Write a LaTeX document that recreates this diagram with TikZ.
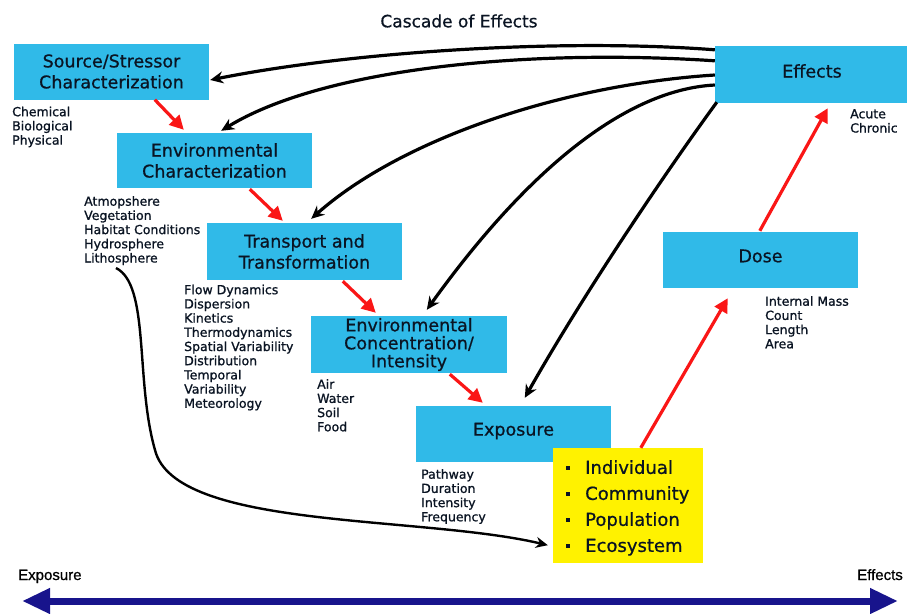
\documentclass[tikz,border=0pt]{standalone}
\usepackage{fontspec}
\setmainfont[FakeBold=0.7]{DejaVu Sans}
\newfontfamily\listfont[FakeBold=1.0]{DejaVu Sans}
\newfontfamily\lblfont[FakeBold=0.8]{Liberation Sans}
\usetikzlibrary{arrows.meta,calc}
\definecolor{boxblue}{RGB}{48,186,232}
\definecolor{arrred}{RGB}{250,22,22}
\definecolor{navyarr}{RGB}{24,20,140}
\definecolor{txtdark}{RGB}{10,20,35}
\begin{document}
\begin{tikzpicture}[x=1pt,y=-1pt,
  bluebox/.style={fill=boxblue,minimum width=195pt,minimum height=56pt,inner sep=0pt,align=center,
    font=\fontsize{17.5}{21}\selectfont,text=txtdark},
  boxlabel/.style={font=\fontsize{17.5}{21}\selectfont,text=txtdark},
  listtext/.style={anchor=north west,align=left,inner sep=0pt,font=\listfont\fontsize{12.5}{14.2}\selectfont,text=txtdark},
  redarr/.style={draw=arrred,line width=3.2pt,-{Triangle[length=14pt,width=14pt]}},
  blkarr/.style={draw=black,line width=3.2pt,-{Stealth[length=13pt,width=12pt]}},
]
\useasboundingbox (0,0) rectangle (907,613);
\fill[white] (0,0) rectangle (907,613);

\node[font=\fontsize{17}{20}\selectfont,text=txtdark] (title) at (459,21) {Cascade of Effects};

% boxes
\node[bluebox] (src) at (111.5,71.5) {Source/Stressor\\Characterization};
\node[bluebox,minimum width=192pt,minimum height=57pt] (eff) at (811,74.5) {};
\node[boxlabel] (efft) at (812,71) {Effects};
\node[bluebox,minimum height=55pt] (envc) at (214.5,160.5) {Environmental\\Characterization};
\node[bluebox,minimum height=57pt] (trans) at (304.5,251.5) {Transport and\\Transformation};
\node[bluebox,minimum width=196pt,minimum height=57pt,font=\fontsize{17.5}{18}\selectfont] (conc) at (409,344.5) {Environmental\\Concentration/\\Intensity};
\node[bluebox] (expo) at (513.5,434) {};
\node[boxlabel] (expot) at (513.5,431) {Exposure};
\node[bluebox] (dose) at (760.5,260) {};
\node[boxlabel] (doset) at (760.5,256) {Dose};
\node[fill=yellow,minimum width=150pt,minimum height=115pt,inner sep=0pt] (yel) at (628,505.5) {};
\node[anchor=north west,align=left,inner sep=0pt,font=\fontsize{18}{26}\selectfont,text=txtdark] (yelt) at (566,460)
 {\raisebox{4pt}{\rule{4pt}{4pt}}\hspace{15pt}Individual\\
  \raisebox{4pt}{\rule{4pt}{4pt}}\hspace{15pt}Community\\
  \raisebox{4pt}{\rule{4pt}{4pt}}\hspace{15pt}Population\\
  \raisebox{4pt}{\rule{4pt}{4pt}}\hspace{15pt}Ecosystem};

% lists
\node[listtext] (l1) at (12,106.5) {Chemical\\Biological\\Physical};
\node[listtext] (l2) at (84,196) {Atmopshere\\Vegetation\\Habitat Conditions\\Hydrosphere\\Lithosphere};
\node[listtext] (l3) at (184,284.5) {Flow Dynamics\\Dispersion\\Kinetics\\Thermodynamics\\Spatial Variability\\Distribution\\Temporal\\Variability\\Meteorology};
\node[listtext] (l4) at (317,379) {Air\\Water\\Soil\\Food};
\node[listtext] (l5) at (421,469) {Pathway\\Duration\\Intensity\\Frequency};
\node[listtext] (l6) at (765,296) {Internal Mass\\Count\\Length\\Area};
\node[listtext] (l7) at (850,109) {Acute\\Chronic};

% red arrows
\draw[redarr] ($(src.south west)+(141,0)$) -- ($(envc.north west)+(67,-3)$);
\draw[redarr] ($(envc.south west)+(133,1)$) -- ($(trans.north west)+(76,-2)$);
\draw[redarr] ($(trans.south west)+(136,1)$) -- ($(conc.north west)+(65,-3)$);
\draw[redarr] ($(conc.south west)+(139,1)$) -- ($(expo.north west)+(67,-3)$);
\draw[redarr] ($(yel.north west)+(88,0)$) -- ($(dose.south west)+(65,10)$);
\draw[redarr] ($(dose.north west)+(97,-1)$) -- ($(eff.south west)+(113,5)$);

% black feedback arrows
\draw[blkarr] ($(eff.north west)+(0,4)$) .. controls (560,38) and (350,52) .. ($(src.east)+(1,8.5)$);
\draw[blkarr] ($(eff.north west)+(0,15)$) .. controls (520,48) and (320,70) .. ($(envc.north east)+(-91,-2)$);
\draw[blkarr] ($(eff.west)+(0,0.5)$) .. controls (560,85) and (400,140) .. ($(trans.north east)+(-91,-4)$);
\draw[blkarr] ($(eff.west)+(0,10.5)$) .. controls (620,90) and (520,180) .. ($(conc.north west)+(116,-6)$);
\draw[blkarr] ($(eff.south west)+(2,-1)$) .. controls (660,180) and (580,300) .. ($(expo.north west)+(109,-8)$);

% lithosphere curve
\coordinate (lith) at (116,268);
\draw[draw=black,line width=2.4pt,-{Stealth[length=12pt,width=11pt]}] (lith) .. controls (150,285) and (135,380) .. (155,450)
  .. controls (175,530) and (420,515) .. ($(yel.south west)+(-5,-18)$);

% bottom axis
\node[anchor=base west,inner sep=0pt,font=\lblfont\fontsize{15}{18}\selectfont] (lex) at (18,580) {Exposure};
\node[anchor=base east,inner sep=0pt,font=\lblfont\fontsize{15}{18}\selectfont] (lef) at (903,580) {Effects};
\coordinate (axl) at (22,601);
\coordinate (axr) at (898,601);
\draw[draw=navyarr,line width=7pt,{Triangle[length=28pt,width=24pt]}-{Triangle[length=28pt,width=24pt]}] (axl) -- (axr);
\end{tikzpicture}
\end{document}
